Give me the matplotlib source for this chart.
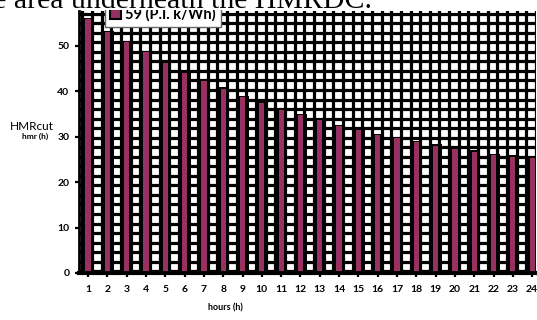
import numpy as np
import matplotlib
matplotlib.use('Agg')
import matplotlib.pyplot as plt
from matplotlib.patches import Rectangle

plt.rcParams['font.family'] = ['Lato', 'DejaVu Sans']

# hourly values
hours = list(range(1, 25))
hmr_cut = [56.2, 53.4, 51.1, 48.9, 46.5, 44.3, 42.6, 40.9, 39.0, 37.7,
           36.3, 35.1, 34.0, 32.7, 31.8, 30.6, 30.0, 29.1, 28.3, 27.6,
           27.0, 26.3, 25.9, 25.6]
series_label = '59 (P.I. k/Wh)'
bar_color = '#983062'

fig = plt.figure(figsize=(5.37, 3.2), dpi=100)
ax = fig.add_axes([79 / 537, 47 / 320, 457 / 537, 262 / 320])

x = np.array(hours)
y = np.array(hmr_cut)

# black "body" of each bar and the coloured front face
ax.bar(x, y, width=0.64, color='black', zorder=3)
ax.bar(x, y - 0.7, width=0.27, bottom=0.4, color=bar_color, zorder=4,
       label=series_label)

# dense grid
ax.set_xticks(np.arange(0.7, 25, 0.5), minor=True)
ax.set_yticks(np.arange(0.4, 60, 2.1), minor=True)
ax.grid(which='minor', color='black', linewidth=2.3, zorder=1)
ax.tick_params(which='minor', length=0)
ax.set_axisbelow(True)

ax.set_xlim(0.53, 24.2)
ax.set_ylim(0, 57.7)
ax.set_xticks(hours)
ax.set_yticks([0, 10, 20, 30, 40, 50])
ax.tick_params(which='major', direction='out', length=3, width=1.6,
               labelsize=7.5, pad=4)
for lab in ax.get_xticklabels() + ax.get_yticklabels():
    lab.set_fontweight('bold')
ax.tick_params(axis='x', pad=6)

for side in ['top', 'right']:
    ax.spines[side].set_visible(False)
ax.spines['left'].set_linewidth(2)
ax.spines['bottom'].set_linewidth(3)

leg = ax.legend(loc='lower left', bbox_to_anchor=(0.057, 0.939),
                prop={'weight': 'bold', 'size': 10.5}, frameon=True,
                fancybox=False, handlelength=0.75, handleheight=0.75,
                handletextpad=0.3, borderpad=0.35, borderaxespad=0)
leg.get_frame().set_edgecolor('#666666')
leg.get_frame().set_alpha(1)
leg.set_zorder(10)
for h in leg.legend_handles:
    h.set_edgecolor('black')
    h.set_linewidth(1.5)

fig.text(32 / 537, 1 - 126 / 320, 'HMRcut', fontsize=8.5, ha='center', va='center')
fig.text(35 / 537, 1 - 136 / 320, 'hmr (h)', fontsize=6, fontweight='bold',
         ha='center', va='center')
fig.text(225 / 537, 1 - 308 / 320, 'hours (h)', fontsize=6.5, fontweight='bold',
         ha='center', va='center')

# white strip of the page above the chart, with the cut-off caption
fig.patches.append(Rectangle((0, 1 - 10 / 320), 1, 10 / 320, transform=fig.transFigure,
                             facecolor='white', edgecolor='none', zorder=20))
fig.text(-30 / 537, 1 - 8 / 320, 'the area underneath the HMRDC.',
         fontsize=21.5, family='Liberation Serif', va='baseline', ha='left',
         zorder=21)

fig.savefig('out.png', dpi=100)
